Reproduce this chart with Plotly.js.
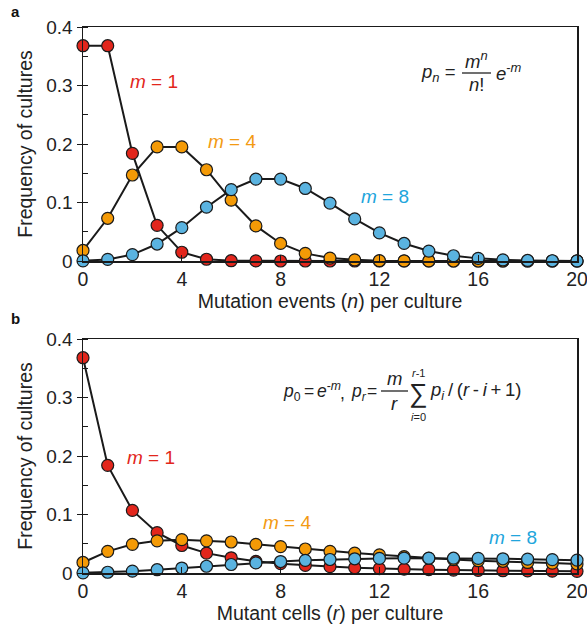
<!DOCTYPE html>
<html>
<head>
<meta charset="utf-8">
<script src="https://cdn.plot.ly/plotly-3.0.1.min.js"></script>
<style>html,body{margin:0;padding:0;background:#fff;}#chart{width:587px;height:627px;}</style>
</head>
<body>
<div id="chart"></div>
<script>
// x values (events n / mutant cells r)
const counts = [0,1,2,3,4,5,6,7,8,9,10,11,12,13,14,15,16,17,18,19,20];
const xTicks = [0,4,8,12,16,20];
const yTicks = [0,0.1,0.2,0.3,0.4];
const yTickText = ['0','0.1','0.2','0.3','0.4'];

// Panel a: Poisson frequencies
const poissonM1 = [0.368,0.368,0.184,0.061,0.015,0.003,0.0005,0.0001,0,0,0,0,0,0,0,0,0,0,0,0,0];
const poissonM4 = [0.018,0.073,0.147,0.195,0.195,0.156,0.104,0.060,0.030,0.013,0.005,0.002,0.0006,0.0002,0.0001,0,0,0,0,0,0];
const poissonM8 = [0.0003,0.0027,0.011,0.029,0.057,0.092,0.122,0.140,0.140,0.124,0.099,0.072,0.048,0.030,0.017,0.009,0.0045,0.002,0.0009,0.0004,0.0002];

// Panel b: Luria–Delbrück frequencies
const ldM1 = [0.368,0.184,0.107,0.069,0.047,0.034,0.026,0.020,0.016,0.013,0.011,0.009,0.0076,0.0065,0.0057,0.0050,0.0044,0.0039,0.0035,0.0031,0.0028];
const ldM4 = [0.018,0.037,0.049,0.055,0.057,0.055,0.053,0.049,0.045,0.041,0.037,0.034,0.031,0.028,0.025,0.023,0.021,0.020,0.018,0.017,0.0155];
const ldM8 = [0.0003,0.0013,0.0031,0.0056,0.0085,0.0115,0.0145,0.0173,0.0196,0.0216,0.0231,0.0243,0.0250,0.0254,0.0254,0.0253,0.0249,0.0243,0.0237,0.0229,0.0220];

const seriesNames = ['m = 1','m = 4','m = 8'];
const markerColors = ['#e2261c','#f49a06','#5ab3e0'];
const labelColors = ['#e2261c','#f39a12','#21a5dc'];

const FONT = '"Liberation Sans", Arial, Helvetica, sans-serif';
const W = 587, H = 627;
const M = {l:83, r:10, t:27, b:54};
const PW = W - M.l - M.r, PH = H - M.t - M.b;
function px(x){ return (x - M.l)/PW; }
function py(y){ return (H - M.b - y)/PH; }

function mk(x, y, i, xa, ya){
  return {
    x: x, y: y, type:'scatter', mode:'lines+markers', name: seriesNames[i],
    xaxis: xa, yaxis: ya, showlegend:false, cliponaxis:false,
    line:{color:'#1a1a1a', width:2},
    marker:{size:12, color:markerColors[i], line:{color:'#1a1a1a', width:1.2}}
  };
}
const data = [
  mk(counts, poissonM1, 0, 'x', 'y'),
  mk(counts, poissonM4, 1, 'x', 'y'),
  mk(counts, poissonM8, 2, 'x', 'y'),
  mk(counts, ldM1, 0, 'x2', 'y2'),
  mk(counts, ldM4, 1, 'x2', 'y2'),
  mk(counts, ldM8, 2, 'x2', 'y2')
];

function xaxis(title, anchor){
  return {
    anchor: anchor, domain:[0,1], range:[0,20], tickvals:xTicks, ticktext:xTicks.map(String),
    ticks:'inside', ticklen:6, tickwidth:1, tickcolor:'#1a1a1a',
    showline:true, mirror:true, linecolor:'#1a1a1a', linewidth:1.5,
    showgrid:false, zeroline:false, automargin:false, ticklabeloverflow:'allow',
    tickfont:{family:FONT, size:19.5, color:'#222'},
    title:{text:title, font:{family:FONT, size:19.5, color:'#222'}, standoff:5}
  };
}
function yaxis(domain, anchor){
  return {
    anchor: anchor, domain: domain, range:[0,0.4], tickvals:yTicks, ticktext:yTickText,
    ticks:'outside', ticklen:5, tickwidth:1, tickcolor:'#1a1a1a',
    minor:{dtick:0.05, ticks:'inside', ticklen:5, tickcolor:'#1a1a1a', showgrid:false},
    showline:true, mirror:true, linecolor:'#1a1a1a', linewidth:1.5,
    showgrid:false, zeroline:false, automargin:false, ticklabeloverflow:'allow',
    tickfont:{family:FONT, size:19, color:'#222'},
    title:{text:'Frequency of cultures', font:{family:FONT, size:19.5, color:'#222'}, standoff:8}
  };
}

const ann = [];
function txt(text, x, y, opts){
  ann.push(Object.assign({text:text, x:px(x), y:py(y), xref:'paper', yref:'paper',
    showarrow:false, xanchor:'center', yanchor:'middle',
    font:{family:FONT, size:18.5, color:'#222'}}, opts||{}));
}
const small = {family:FONT, size:17.5, color:'#222'};
// panel letters
txt('<b>a</b>', 15, 11, {font:{family:FONT, size:15, color:'#111'}});
txt('<b>b</b>', 15, 318, {font:{family:FONT, size:15, color:'#111'}});
// series labels
const labelPos = [[154,82],[232,141],[385,196],[151,457],[287,522],[513,537]];
labelPos.forEach((p,k)=>{
  const i = k % 3;
  txt('<i>m</i> = ' + seriesNames[i].split('= ')[1], p[0], p[1], {font:{family:FONT, size:19, color:labelColors[i]}});
});
// formula a
const thin = '\u2009';
txt('<i>p</i><sub><i>n</i></sub> =', 419, 73, {xanchor:'left'});
txt('<i>m</i><sup><i>n</i></sup>', 476, 60);
txt('<i>n</i>!', 476, 85);
txt('<i>e</i><sup>-<i>m</i></sup>', 494, 72, {xanchor:'left'});
// formula b
txt('<i>p</i><sub>0</sub>', 281, 392, {xanchor:'left', font:small});
txt('=', 309, 391, {font:small});
txt('<i>e</i><sup>-<i>m</i></sup>', 315, 390, {xanchor:'left', font:small});
txt(',', 342, 393, {font:small});
txt('<i>p</i><sub><i>r</i></sub>', 349, 392, {xanchor:'left', font:small});
txt('=', 372, 391, {font:small});
txt('<i>m</i>', 394, 379);
txt('<i>r</i>', 394, 403);
txt('\u2211', 418, 393, {font:{family:FONT, size:26, color:'#222'}});
txt('<i>r</i>-1', 418, 373, {font:{family:FONT, size:11, color:'#222'}});
txt('<i>i</i>=0', 418, 417, {font:{family:FONT, size:11, color:'#222'}});
txt('<i>p</i><sub><i>i</i></sub>' + thin + '/' + thin + '(<i>r</i>' + thin + '-' + thin + '<i>i</i>' + thin + '+' + thin + '1)', 428, 391, {xanchor:'left'});

const shapes = [
  {type:'line', xref:'paper', yref:'paper', x0:px(462), x1:px(491), y0:py(73), y1:py(73), line:{color:'#222', width:1.3}},
  {type:'line', xref:'paper', yref:'paper', x0:px(381), x1:px(408), y0:py(391), y1:py(391), line:{color:'#222', width:1.3}}
];

const layout = {
  width:W, height:H, margin:M, paper_bgcolor:'#fff', plot_bgcolor:'#fff',
  font:{family:FONT, color:'#222'},
  xaxis: xaxis('Mutation events (<i>n</i>) per culture', 'y'),
  yaxis: yaxis([py(261), 1], 'x'),
  xaxis2: xaxis('Mutant cells (<i>r</i>) per culture', 'y2'),
  yaxis2: yaxis([0, py(339)], 'x2'),
  annotations: ann, shapes: shapes
};
Plotly.newPlot('chart', data, layout, {displayModeBar:false, staticPlot:true});
</script>
</body>
</html>
